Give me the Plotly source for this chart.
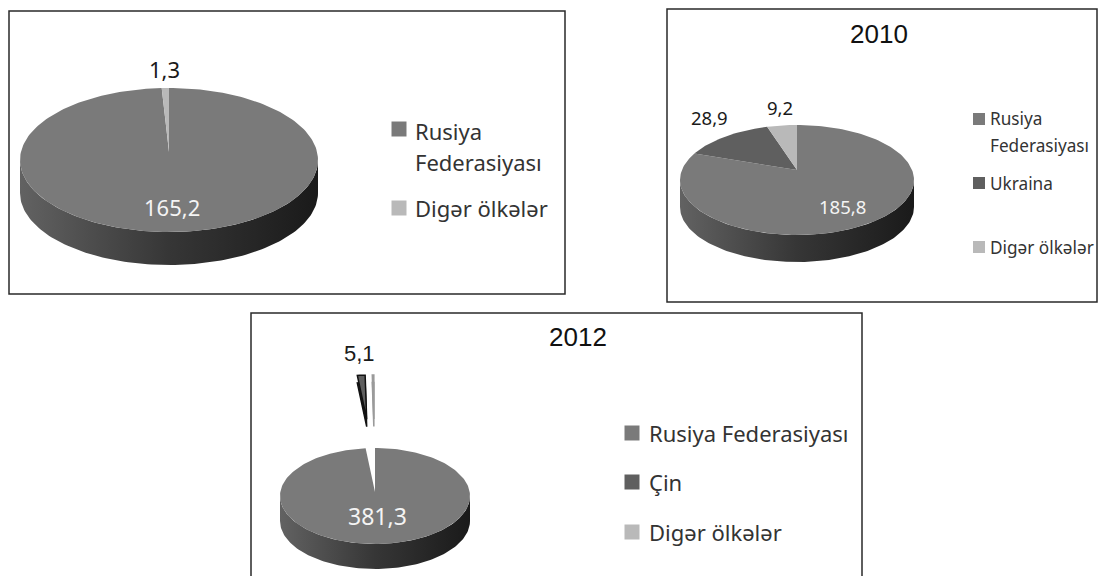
import numpy as np
import plotly.graph_objects as go

# ---------------- data ----------------
labels_p1 = ["Rusiya Federasiyası", "Digər ölkələr"]
values_p1 = [165.2, 1.3]

labels_2010 = ["Rusiya Federasiyası", "Ukraina", "Digər ölkələr"]
values_2010 = [185.8, 28.9, 9.2]

labels_2012 = ["Rusiya Federasiyası", "Çin", "Digər ölkələr"]
values_2012 = [381.3, 5.1, 1.0]

titles = ["", "2010", "2012"]

# ---------------- style ----------------
COLORS = {"Rusiya Federasiyası": "#7a7a7a", "Ukraina": "#5f5f5f",
          "Çin": "#5f5f5f", "Digər ölkələr": "#b9b9b9"}
EDGE = {"Rusiya Federasiyası": "#111111", "Ukraina": "#111111",
        "Çin": "#111111", "Digər ölkələr": "#9a9a9a"}
BODY = "Noto Sans"
HEAD = "Liberation Sans"
PAGE_MARGIN = 8  # default body margin of the html page

panels = [
    dict(labels=labels_p1, values=values_p1, title=titles[0],
         cx=169, cy=160, rx=149, ry=72, depth=33, vdy=-8,
         k=[0.76, 1.15], lab_font=[22, 22], lab_fam=[BODY, BODY], show=[True, True],
         explode=[], e=0,
         box=(9, 11, 565, 294), title_xy=None,
         sq_x=399, sq_size=15, txt_x=413, font=22,
         rows=[[131, 162], [208]], sq_y=[129, 208]),
    dict(labels=labels_2010, values=values_2010, title=titles[1],
         cx=797, cy=180, rx=117, ry=55, depth=27, vdy=-10,
         k=[0.77, 1.21, 1.15], lab_font=[18.5, 18.5, 18.5], lab_fam=[BODY] * 3,
         show=[True, True, True], explode=[], e=0,
         box=(667, 9, 1097, 302), title_xy=(879, 34),
         sq_x=979, sq_size=12, txt_x=988, font=17.2,
         rows=[[118, 145], [183], [247]], sq_y=[119, 183, 247]),
    dict(labels=labels_2012, values=values_2012, title=titles[2],
         cx=375, cy=496, rx=95, ry=48, depth=25, vdy=-4,
         k=[0.5, 1.37, 1.37], lab_font=[23, 22, 22], lab_fam=[BODY, HEAD, HEAD],
         show=[True, True, False], explode=[1, 2], e=1.52,
         box=(251, 313, 862, 590), title_xy=(578, 337),
         sq_x=632, sq_size=15, txt_x=647, font=22,
         rows=[[433], [482], [532]], sq_y=[433, 482, 532]),
]

fig = go.Figure()
annotations = []
shapes = []


def rim(cx, cy, rx, ry, t0, t1, n):
    t = np.radians(np.linspace(t0, t1, n))
    return cx + rx * np.sin(t), cy - ry * np.cos(t)


def fmt(v):
    return f"{v:.1f}".replace(".", ",")


for p in panels:
    cx, cy, rx, ry, d = p["cx"], p["cy"], p["rx"], p["ry"], p["depth"]
    vx, vy = cx, cy + p["vdy"]
    vals = np.array(p["values"], dtype=float)
    ang = vals / vals.sum() * 360.0
    ends = np.cumsum(ang)
    starts = ends - ang

    # box
    x0, y0, x1, y1 = p["box"]
    shapes.append(dict(type="rect", xref="x", yref="y", x0=x0, y0=y0, x1=x1, y1=y1,
                       line=dict(color="#2a2a2a", width=1.5), fillcolor="rgba(0,0,0,0)",
                       layer="below"))

    # side of the pie (front half)
    ux, uy = rim(cx, cy, rx, ry, 90, 270, 120)
    lx, ly = ux[::-1], uy[::-1] + d
    fig.add_trace(go.Scatter(
        x=np.concatenate([ux, lx, ux[:1]]), y=np.concatenate([uy, ly, uy[:1]]),
        mode="lines", line=dict(width=0), fill="toself",
        fillgradient=dict(type="horizontal",
                          colorscale=[[0, "#626262"], [0.5, "#363636"], [1, "#1a1a1a"]]),
        hoverinfo="skip", showlegend=False))

    # top faces
    for i, (lab, s, e_) in enumerate(zip(p["labels"], starts, ends)):
        n = max(4, int((e_ - s) / 360 * 240))
        ax, ay = rim(cx, cy, rx, ry, s, e_, n)
        bis = np.radians((s + e_) / 2)
        ox = oy = 0.0
        exploded = i in p["explode"]
        if exploded:
            ox = p["e"] * rx * np.sin(bis)
            oy = -p["e"] * ry * np.cos(bis)
            # dark body of the exploded slice
            fig.add_trace(go.Scatter(
                x=np.concatenate([[vx], ax, [vx]]) + ox,
                y=np.concatenate([[vy], ay, [vy]]) + oy + d * 0.3,
                mode="lines", line=dict(width=1.5, color=EDGE[lab]), fill="toself",
                fillcolor="#1c1c1c" if EDGE[lab] == "#111111" else "#8a8a8a",
                hoverinfo="skip", showlegend=False))
        fig.add_trace(go.Scatter(
            x=np.concatenate([[vx], ax, [vx]]) + ox,
            y=np.concatenate([[vy], ay, [vy]]) + oy,
            mode="lines",
            line=dict(width=(1.5 if exploded else 0), color=EDGE[lab]),
            fill="toself", fillcolor=COLORS[lab],
            name=lab, text=f"{lab}: {fmt(p['values'][i])}", hoverinfo="text",
            showlegend=False))

        # data label
        if p["show"][i]:
            k = p["k"][i]
            lx_ = vx + ox + k * rx * np.sin(bis)
            ly_ = vy + oy - k * ry * np.cos(bis)
            inside = k < 1
            annotations.append(dict(
                x=lx_, y=ly_, xref="x", yref="y", text=fmt(p["values"][i]), showarrow=False,
                font=dict(family=p["lab_fam"][i], size=p["lab_font"][i],
                          color="#f4f4f4" if inside else "#1a1a1a"),
                xanchor="center", yanchor="middle"))

    # title
    if p["title"] and p["title_xy"]:
        annotations.append(dict(x=p["title_xy"][0], y=p["title_xy"][1], xref="x", yref="y",
                                text=p["title"], showarrow=False,
                                font=dict(family=HEAD, size=26, color="#111111"),
                                xanchor="center", yanchor="middle"))

    # legend (squares + text)
    fig.add_trace(go.Scatter(
        x=[p["sq_x"]] * len(p["labels"]), y=p["sq_y"], mode="markers",
        marker=dict(symbol="square", size=p["sq_size"],
                    color=[COLORS[l] for l in p["labels"]], line=dict(width=0)),
        hoverinfo="skip", showlegend=False))
    for lab, ys in zip(p["labels"], p["rows"]):
        parts = lab.split(" ", 1) if len(ys) == 2 else [lab]
        for part, yy in zip(parts, ys):
            annotations.append(dict(x=p["txt_x"], y=yy, xref="x", yref="y", text=part,
                                    showarrow=False, xanchor="left", yanchor="middle",
                                    font=dict(family=BODY, size=p["font"], color="#333333")))

W, H = 1107, 576
fig.update_layout(
    width=W - PAGE_MARGIN, height=H - PAGE_MARGIN, margin=dict(l=0, r=0, t=0, b=0),
    paper_bgcolor="white", plot_bgcolor="white",
    xaxis=dict(range=[PAGE_MARGIN, W], visible=False, fixedrange=True),
    yaxis=dict(range=[H, PAGE_MARGIN], visible=False, fixedrange=True),
    annotations=annotations, shapes=shapes, showlegend=False,
)

fig.write_html("out.html")
